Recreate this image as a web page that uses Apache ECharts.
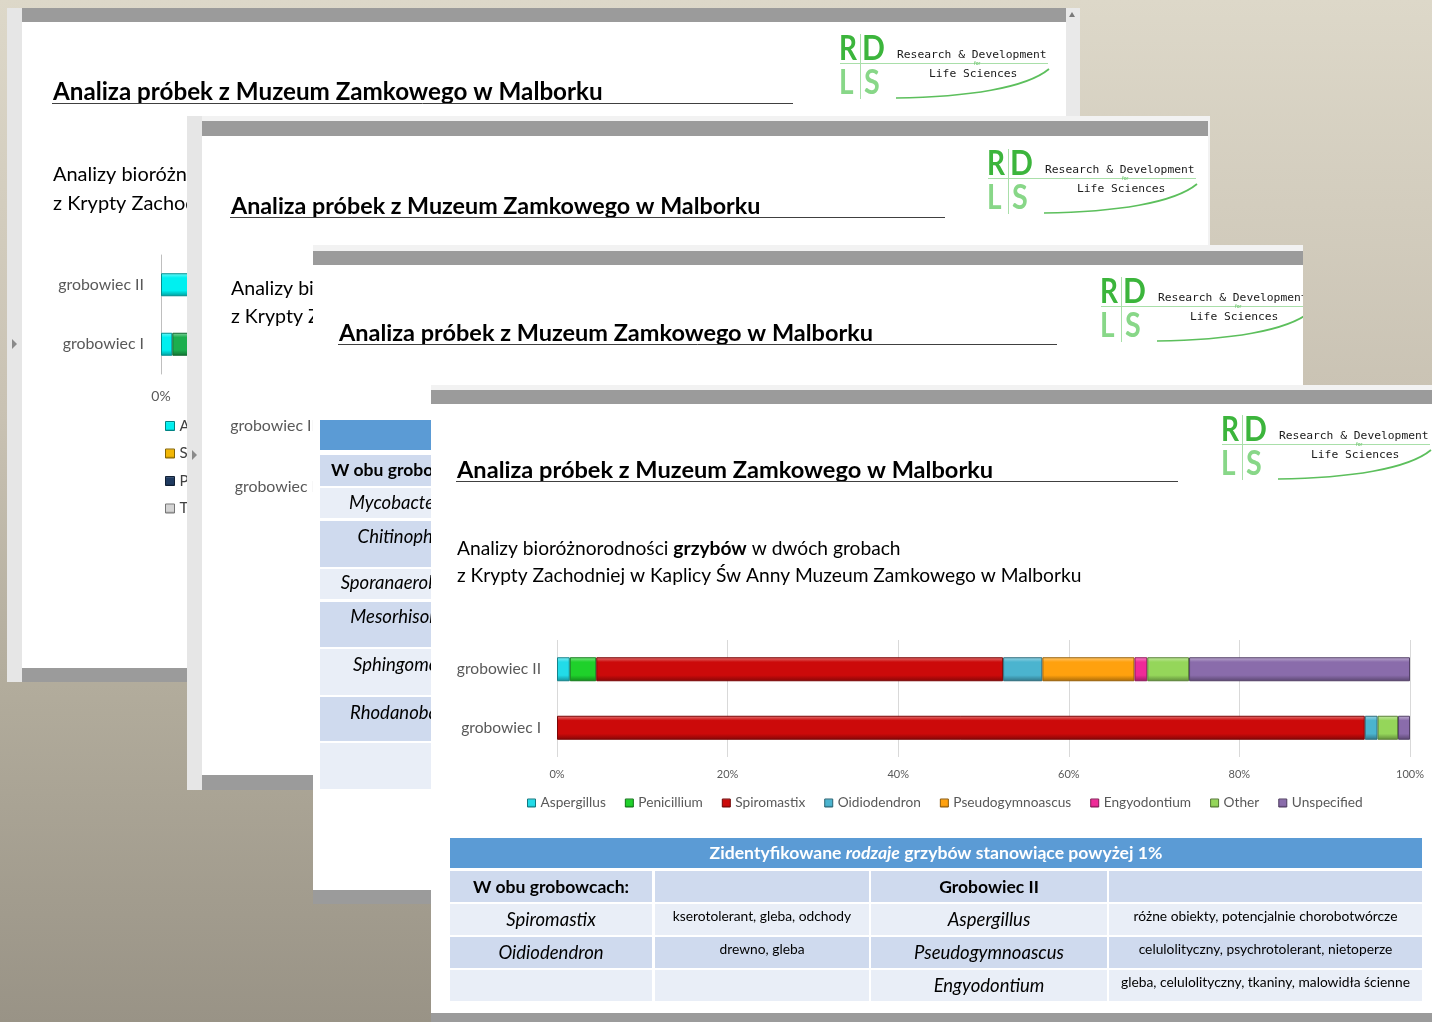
<!DOCTYPE html>
<html>
<head>
<meta charset="utf-8">
<title>Analiza próbek z Muzeum Zamkowego w Malborku</title>
<script src="https://cdn.jsdelivr.net/npm/echarts@6.0.0/dist/echarts.min.js"></script>
<style>
  html, body { margin: 0; padding: 0; }
  #chart { width: 1432px; height: 1022px; }
</style>
</head>
<body>
<div id="chart"></div>
<script>
/* dane - grzyby (slajd na wierzchu) */
var categories = ['grobowiec I', 'grobowiec II'];
var genera = ['Aspergillus', 'Penicillium', 'Spiromastix', 'Oidiodendron', 'Pseudogymnoascus', 'Engyodontium', 'Other', 'Unspecified'];
var tombI = [0, 0, 94.7, 1.5, 0, 0, 2.4, 1.4];
var tombII = [1.5, 3.1, 47.7, 4.6, 10.8, 1.5, 4.9, 25.9];
var genusColors = ['#22dbe8', '#1fd12b', '#cc0a0a', '#4bb4cf', '#ffa10e', '#ef2a98', '#95d65a', '#8a6cab'];

/* slajd pod spodem (bakterie) - prawie caly zasloniety */
var phyla = ['Actinobacteria', 'Saccharibacteria', 'Planctomycetes', 'Thermi', 'Proteobacteria'];
var phylaI = [1.3, 0, 0, 0, 30];
var phylaII = [40, 0, 0, 0, 0];
var phylaColors = ['#00f0f0', '#f2b705', '#1f3a60', '#d4d4d4', '#1cae4e'];

var title = 'Analiza próbek z Muzeum Zamkowego w Malborku';
var subtitle1 = ['Analizy bioróżnorodności ', 'grzybów', ' w dwóch grobach'];
var subtitle2 = 'z Krypty Zachodniej w Kaplicy Św Anny Muzeum Zamkowego w Malborku';

var tableTitle = ['Zidentyfikowane ', 'rodzaje', ' grzybów stanowiące powyżej 1%'];
var bothHead = 'W obu grobowcach:';
var bothGenera = ['Spiromastix', 'Oidiodendron'];
var bothNotes = ['kserotolerant, gleba, odchody', 'drewno, gleba'];
var tomb2Head = 'Grobowiec II';
var tomb2Genera = ['Aspergillus', 'Pseudogymnoascus', 'Engyodontium'];
var tomb2Notes = ['różne obiekty, potencjalnie chorobotwórcze', 'celulolityczny, psychrotolerant, nietoperze', 'gleba, celulolityczny, tkaniny, malowidła ścienne'];
var bacteriaBoth = ['Mycobacterium', 'Chitinophaga', 'Sporanaerobacter', 'Mesorhisobium', 'Sphingomonas', 'Rhodanobacter'];

var FONT = 'Lato';
var MONO = '"DejaVu Sans Mono"';
var GREY = '#595959';

var ctx = document.createElement('canvas').getContext('2d');
function fit (str, pre, w) {
  ctx.font = pre + ' 100px ' + FONT;
  return +(100 * w / ctx.measureText(str).width).toFixed(1);
}
function hex (c) {
  return [parseInt(c.substr(1, 2), 16), parseInt(c.substr(3, 2), 16), parseInt(c.substr(5, 2), 16)];
}
function mix (c, t, k) {
  var a = hex(c), b = hex(t);
  return 'rgb(' + a.map(function (v, i) { return Math.round(v + (b[i] - v) * k) }).join(',') + ')';
}
function bevel (c) {
  return {
    type: 'linear', x: 0, y: 0, x2: 0, y2: 1,
    colorStops: [
      { offset: 0, color: mix(c, '#ffffff', 0.45) },
      { offset: 0.2, color: c },
      { offset: 0.75, color: c },
      { offset: 1, color: mix(c, '#000000', 0.35) }
    ]
  };
}
var bgFill = {
  type: 'linear', x: 0, y: 0, x2: 0, y2: 1022, global: true,
  colorStops: [
    { offset: 0, color: '#ddd8c9' },
    { offset: 0.4, color: '#c9c2b3' },
    { offset: 0.67, color: '#b2ac9c' },
    { offset: 1, color: '#999386' }
  ]
};

/* elementy graficzne */
var els = [], seq = 0;
function add (el, z) { el.z = z; el.z2 = seq++; el.silent = true; els.push(el); }
function box (x, y, w, h, fill, z) {
  add({ type: 'rect', shape: { x: x, y: y, width: w, height: h }, style: { fill: fill } }, z);
}
function seg (x1, y1, x2, y2, stroke, lw, z) {
  add({ type: 'line', shape: { x1: x1, y1: y1, x2: x2, y2: y2 }, style: { stroke: stroke, lineWidth: lw } }, z);
}
function tri (pts, fill, z) {
  add({ type: 'polygon', shape: { points: pts }, style: { fill: fill } }, z);
}
function txt (x, y, str, font, fill, align, z, sx) {
  add({
    type: 'text', x: x, y: y, scaleX: sx || 1,
    style: { text: str, font: font, fill: fill, textAlign: align, textVerticalAlign: 'middle', align: align, verticalAlign: 'middle' }
  }, z);
}
function rich (x, y, parts, size, base, accent, fill, align, z) {
  add({
    type: 'text', x: x, y: y,
    style: {
      text: '{a|' + parts[0] + '}{b|' + parts[1] + '}{a|' + parts[2] + '}',
      fill: fill, fontSize: size, fontFamily: FONT,
      textAlign: align, textVerticalAlign: 'middle', align: align, verticalAlign: 'middle',
      rich: {
        a: { fontSize: size, fontFamily: FONT, fontWeight: base.w, fontStyle: base.s, fill: fill },
        b: { fontSize: size, fontFamily: FONT, fontWeight: accent.w, fontStyle: accent.s, fill: fill }
      }
    }
  }, z);
}

/* logo RDLS; ox, oy = lewy gorny rog litery R */
function logo (ox, oy, z) {
  var dark = '#3cb53c', light = '#88d788', line = '#a9dfa9';
  var big = 'bold 35px ' + FONT;
  txt(ox - 1, oy + 13, 'R', big, dark, 'left', z, 0.8);
  txt(ox + 22, oy + 13, 'D', big, dark, 'left', z, 0.86);
  txt(ox - 1, oy + 47, 'L', big, light, 'left', z, 0.8);
  txt(ox + 24, oy + 47, 'S', big, light, 'left', z, 0.82);
  seg(ox + 20.5, oy - 2, ox + 20.5, oy + 63, line, 1, z);
  seg(ox, oy + 27.5, ox + 208, oy + 27.5, line, 1.2, z);
  txt(ox + 57, oy + 19, 'Research & Development', '11.3px ' + MONO, '#1a1a1a', 'left', z);
  txt(ox + 134, oy + 27, 'for', '5px ' + FONT, '#66c266', 'left', z);
  txt(ox + 89, oy + 38, 'Life Sciences', '11.3px ' + MONO, '#1a1a1a', 'left', z);
  add({
    type: 'bezierCurve',
    shape: { x1: ox + 56, y1: oy + 62, cpx1: ox + 128, cpy1: oy + 61, cpx2: ox + 186, cpy2: oy + 52, x2: ox + 209, y2: oy + 33 },
    style: { stroke: '#5cbf5c', lineWidth: 1.7, fill: null }
  }, z);
}

function heading (x, y, w, lineEnd, z) {
  var s = fit(title, 'bold', w);
  txt(x, y, title, 'bold ' + s + 'px ' + FONT, '#000', 'left', z);
  seg(x - 1, y + 11.5, lineEnd, y + 11.5, '#404040', 1, z);
}

var subSize = fit(subtitle2, '', 626);
function intro (x, y, gap, k, z) {
  rich(x, y, subtitle1, subSize * k, { w: 'normal', s: 'normal' }, { w: 'bold', s: 'normal' }, '#000', 'left', z);
  txt(x, y + gap, subtitle2, (subSize * k) + 'px ' + FONT, '#000', 'left', z);
}

/* tlo */
box(0, 0, 1432, 1022, bgFill, 0);

/* slajd 1 */
box(7, 8, 15, 674, '#e6e6e6', 1);
box(22, 8, 1044, 14, '#9b9b9b', 1);
box(22, 22, 1044, 646, '#ffffff', 1);
box(22, 668, 1044, 14, '#9b9b9b', 1);
box(1066, 8, 14, 674, '#e9e9e9', 1);
tri([[1069, 17], [1075, 17], [1072, 12]], '#7a7a7a', 1);
tri([[12, 339], [12, 349], [17, 344]], '#8a8a8a', 1);
heading(53, 92, 550, 793, 1);
intro(53, 175, 29, 1.04, 1);
logo(840, 36, 1);

/* slajd 2 */
box(187, 116, 1023, 674, '#f2f2f2', 4);
box(187, 116, 15, 674, '#e6e6e6', 4);
box(202, 121, 1006, 15, '#9b9b9b', 4);
box(202, 136, 1006, 639, '#ffffff', 4);
box(202, 775, 1006, 15, '#9b9b9b', 4);
tri([[192, 450], [192, 460], [197, 455]], '#8a8a8a', 4);
heading(231, 206, 530, 945, 4);
intro(231, 289, 28, 1.02, 4);
logo(988, 151, 4);

/* slajd 3 */
box(313, 245, 990, 659, '#f2f2f2', 7);
box(313, 251, 990, 14, '#9b9b9b', 7);
box(313, 265, 990, 625, '#ffffff', 7);
box(313, 890, 990, 14, '#9b9b9b', 7);
heading(339, 333, 534, 1057, 7);
logo(1101, 279, 7);
box(320, 420, 300, 30, '#5b9bd5', 7);
var s3rows = [[455, 31], [488, 30], [521, 46], [569, 30], [602, 45], [649, 46], [697, 44], [743, 46]];
var s3text = [470, 503, 537, 583, 617, 665, 713];
s3rows.forEach(function (r, i) {
  box(320, r[0], 300, r[1], i % 2 ? '#e9eef7' : '#cfdaee', 7);
});
var genusSize = fit('Pseudogymnoascus', 'italic', 150);
var headSize = fit(bothHead, 'bold', 156);
txt(409, s3text[0], bothHead, 'bold ' + headSize + 'px ' + FONT, '#000', 'center', 7);
bacteriaBoth.forEach(function (g, i) {
  txt(409, s3text[i + 1], g, 'italic ' + genusSize + 'px ' + FONT, '#000', 'center', 7);
});
/* zaslona: logo slajdu 3 wystaje poza slajd */
box(1303, 245, 129, 140, bgFill, 8);

/* slajd 4 */
box(431, 385, 1001, 637, '#f2f2f2', 10);
box(431, 390, 1001, 14, '#9b9b9b', 10);
box(431, 404, 1001, 609, '#ffffff', 10);
box(431, 1013, 1001, 9, '#9b9b9b', 10);
heading(457, 470, 536, 1178, 10);
intro(457, 549, 27, 1, 10);
logo(1222, 417, 10);

/* tabela */
var titleSize = fit(tableTitle.join(''), 'bold', 456);
box(450, 838, 972, 30, '#5b9bd5', 10);
rich(936, 853, tableTitle, titleSize, { w: 'bold', s: 'normal' }, { w: 'bold', s: 'italic' }, '#ffffff', 'center', 10);
var colX = [450, 655, 871, 1109];
var colW = [202, 214, 236, 313];
var rowY = [871, 904, 937, 970];
var noteSize = fit(tomb2Notes[2], '', 288);
rowY.forEach(function (y, r) {
  colX.forEach(function (x, c) {
    box(x, y, colW[c], 31, r % 2 ? '#e9eef7' : '#cfdaee', 10);
  });
});
function mid (c) { return colX[c] + colW[c] / 2 }
txt(mid(0), 887, bothHead, 'bold ' + headSize + 'px ' + FONT, '#000', 'center', 10);
txt(mid(2), 887, tomb2Head, 'bold ' + headSize + 'px ' + FONT, '#000', 'center', 10);
bothGenera.forEach(function (g, i) {
  txt(mid(0), rowY[i + 1] + 16, g, 'italic ' + genusSize + 'px ' + FONT, '#000', 'center', 10);
  txt(mid(1), rowY[i + 1] + 13, bothNotes[i], noteSize + 'px ' + FONT, '#000', 'center', 10);
});
tomb2Genera.forEach(function (g, i) {
  txt(mid(2), rowY[i + 1] + 16, g, 'italic ' + genusSize + 'px ' + FONT, '#000', 'center', 10);
  txt(mid(3), rowY[i + 1] + 13, tomb2Notes[i], noteSize + 'px ' + FONT, '#000', 'center', 10);
});

/* serie */
var series = [];
function barStyle (c) {
  return { color: bevel(c), borderColor: mix(c, '#000000', 0.4), borderWidth: 1 };
}
function legendItem (name, c) {
  return { name: name, itemStyle: { color: bevel(c), borderColor: mix(c, '#000000', 0.45), borderWidth: 1 } };
}
phyla.forEach(function (name, i) {
  series.push({
    type: 'bar', name: name, stack: 'phyla', xAxisIndex: 0, yAxisIndex: 0, barWidth: 23, z: 2,
    data: [phylaI[i] || '-', phylaII[i] || '-'],
    itemStyle: barStyle(phylaColors[i])
  });
});
genera.forEach(function (name, i) {
  series.push({
    type: 'bar', name: name, stack: 'fungi', xAxisIndex: 2, yAxisIndex: 2, barWidth: 24, z: 12,
    data: [tombI[i] || '-', tombII[i] || '-'],
    itemStyle: barStyle(genusColors[i])
  });
});

var catSize = fit('grobowiec II', '', 84);
var catSizeBig = fit('grobowiec II', '', 86);
var legendSize = fit('Pseudogymnoascus', '', 118);

function pctAxis (grid, size, margin, z) {
  return {
    type: 'value', gridIndex: grid, min: 0, max: 100, interval: 20, z: z,
    axisLabel: { formatter: '{value}%', fontSize: size, fontFamily: FONT, color: GREY, margin: margin },
    axisLine: { show: false }, axisTick: { show: false },
    splitLine: { show: true, lineStyle: { color: '#d9d9d9', width: 1 } }
  };
}
function catAxis (grid, size, margin, z, line) {
  return {
    type: 'category', gridIndex: grid, data: categories, z: z,
    axisLabel: { fontSize: size, fontFamily: FONT, color: GREY, margin: margin },
    axisLine: { show: line, lineStyle: { color: '#bfbfbf' } }, axisTick: { show: false }
  };
}

var myCharts = echarts.init(document.getElementById('chart'));
var options = {
  animation: false,
  backgroundColor: '#c9c2b3',
  grid: [
    { left: 161, top: 255, width: 870, height: 119, containLabel: false, outerBoundsMode: 'none' },
    { left: 324, top: 395, width: 800, height: 122, containLabel: false, outerBoundsMode: 'none' },
    { left: 557, top: 640, width: 853, height: 117, containLabel: false, outerBoundsMode: 'none' }
  ],
  xAxis: [
    pctAxis(0, 14, 15, 2),
    { type: 'value', gridIndex: 1, show: false, min: 0, max: 100 },
    pctAxis(2, 11, 12, 11)
  ],
  yAxis: [
    catAxis(0, catSizeBig, 17, 2, true),
    catAxis(1, catSizeBig, 8, 5, false),
    catAxis(2, catSize, 16, 11, false)
  ],
  legend: [
    {
      data: phyla.map(function (n, i) { return legendItem(n, phylaColors[i]) }),
      orient: 'vertical', left: 165, top: 417, height: 108, padding: 0, z: 2,
      icon: 'rect', itemWidth: 9, itemHeight: 9, itemGap: 9.5,
      textStyle: { fontSize: 15, lineHeight: 18, fontFamily: FONT, color: '#404040' }
    },
    {
      data: genera.map(function (n, i) { return legendItem(n, genusColors[i]) }),
      orient: 'horizontal', left: 527, top: 796, padding: 0, z: 12,
      icon: 'rect', itemWidth: 8, itemHeight: 8, itemGap: 19,
      textStyle: { fontSize: legendSize, fontFamily: FONT, color: GREY }
    }
  ],
  graphic: { elements: els },
  series: series
};
myCharts.setOption(options);
</script>
</body>
</html>
